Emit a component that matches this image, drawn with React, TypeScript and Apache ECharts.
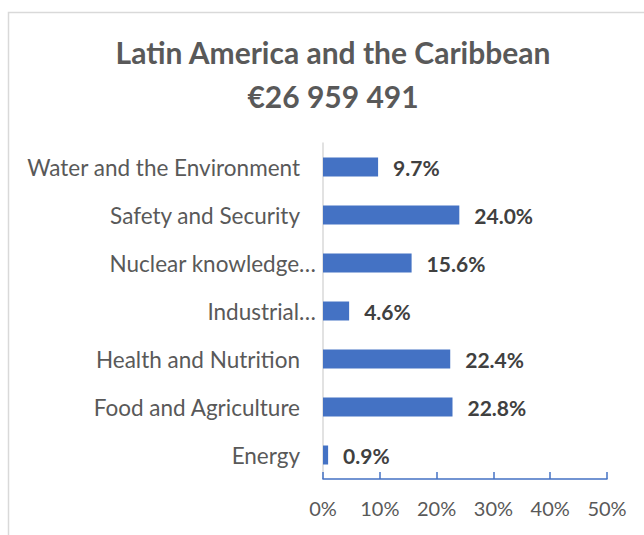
import React, { useEffect, useRef } from "react";
import * as echarts from "echarts";

const categories = [
  "Water and the Environment",
  "Safety and Security",
  "Nuclear knowledge…",
  "Industrial…",
  "Health and Nutrition",
  "Food and Agriculture",
  "Energy",
];
const shares = [9.7, 24.0, 15.6, 4.6, 22.4, 22.8, 0.9];
const titleLines = ["Latin America and the Caribbean", "€26 959 491"];
const axisMax = 50;
const axisStep = 10;

const FONT = "Lato, 'Open Sans', sans-serif";

export default function App() {
  const ref = useRef<HTMLDivElement>(null);
  useEffect(() => {
    document.body.style.margin = "0";
    const chart = echarts.init(ref.current!, undefined, { renderer: "svg" });
    const titleStyle = {
      fontSize: 30,
      fontWeight: "bold",
      fontFamily: FONT,
      fill: "#595959",
      textAlign: "center",
      textVerticalAlign: "middle",
      align: "center",
      verticalAlign: "middle",
    };
    chart.setOption({
      animation: false,
      backgroundColor: "#ffffff",
      textStyle: { fontFamily: FONT },
      graphic: [
        {
          type: "rect",
          shape: { x: 8.5, y: 12.5, width: 700, height: 600 },
          style: { fill: "none", stroke: "#d9d9d9", lineWidth: 1.5 },
          silent: true,
        },
        { type: "text", x: 333, y: 52, style: { ...titleStyle, text: titleLines[0] } },
        { type: "text", x: 333, y: 96, style: { ...titleStyle, text: titleLines[1] } },
      ],
      grid: { left: 323, right: 37, top: 143, bottom: 56, containLabel: false },
      xAxis: {
        type: "value",
        min: 0,
        max: axisMax,
        interval: axisStep,
        axisLine: { show: true, lineStyle: { color: "#4472C4", width: 1.5 } },
        axisTick: { show: true, inside: true, length: 7, lineStyle: { color: "#4472C4", width: 1.5 } },
        splitLine: { show: false },
        axisLabel: {
          formatter: "{value}%",
          color: "#595959",
          fontSize: 20,
          fontFamily: FONT,
          margin: 19,
        },
      },
      yAxis: {
        type: "category",
        inverse: true,
        data: categories,
        axisLine: { show: true, lineStyle: { color: "#d9d9d9", width: 1.5 } },
        axisTick: { show: false },
        axisLabel: {
          color: "#595959",
          fontSize: 22.5,
          fontFamily: FONT,
          margin: 7,
          formatter: (v: string) => (v.endsWith("…") ? `{t|${v}}` : `{n|${v}}`),
          rich: {
            t: { color: "#595959", fontSize: 22.5, fontFamily: FONT },
            n: { color: "#595959", fontSize: 22.5, fontFamily: FONT, padding: [0, 16, 0, 0] },
          },
        },
      },
      series: [
        {
          type: "bar",
          data: shares,
          barWidth: 19,
          itemStyle: { color: "#4472C4" },
          label: {
            show: true,
            position: "right",
            distance: 15,
            fontSize: 21,
            fontWeight: "bold",
            color: "#404040",
            fontFamily: FONT,
            formatter: (p: any) => `${Number(p.value).toFixed(1)}%`,
          },
        },
      ],
    });
    return () => chart.dispose();
  }, []);
  return <div ref={ref} style={{ width: 644, height: 535 }} />;
}
